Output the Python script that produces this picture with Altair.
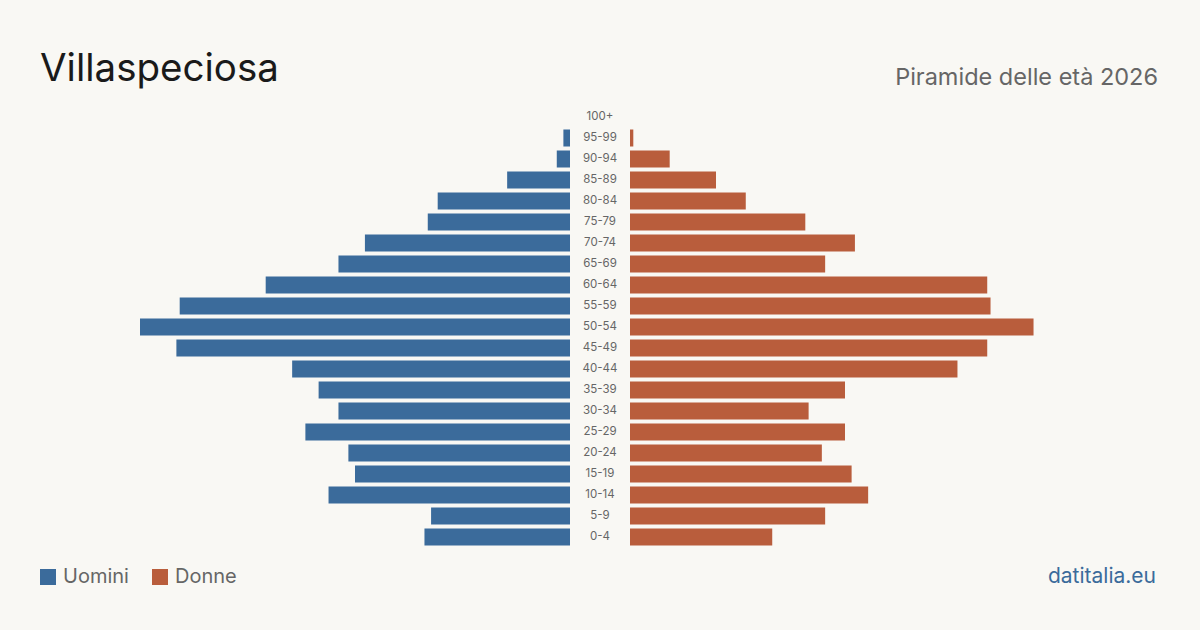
import altair as alt
import pandas as pd

# Age classes, from oldest (top) to youngest (bottom)
ages = ["100+", "95-99", "90-94", "85-89", "80-84", "75-79", "70-74", "65-69",
        "60-64", "55-59", "50-54", "45-49", "40-44", "35-39", "30-34", "25-29",
        "20-24", "15-19", "10-14", "5-9", "0-4"]
uomini = [0, 2, 4, 19, 40, 43, 62, 70, 92, 118, 130, 119, 84, 76, 70, 80, 67, 65, 73, 42, 44]
donne = [0, 1, 12, 26, 35, 53, 68, 59, 108, 109, 122, 108, 99, 65, 54, 65, 58, 67, 72, 59, 43]

title_text = "Villaspeciosa"
subtitle_text = "Piramide delle età 2026"
source_text = "datitalia.eu"

BG = "#f9f8f4"
BLUE = "#3b6b9b"
RUST = "#b95d3c"
FONT = "Inter"

df = pd.DataFrame({"age": ages, "Uomini": uomini, "Donne": donne})
vmax = max(max(uomini), max(donne))

y_enc = alt.Y("age:N", sort=ages, axis=None,
              scale=alt.Scale(range=[106.5, 547.5], paddingInner=0.19, paddingOuter=0.095))

color_scale = alt.Scale(domain=["Uomini", "Donne"], range=[BLUE, RUST])
legend = alt.Legend(orient="none", legendX=38, legendY=567, direction="horizontal",
                    title=None, symbolType="square", symbolSize=256, symbolStrokeWidth=0,
                    symbolOpacity=1, labelFontSize=20, labelColor="#666666", labelFont=FONT,
                    labelOffset=5, columnPadding=21)

base = alt.Chart(df)

men = base.transform_calculate(sesso="'Uomini'").mark_bar().encode(
    x=alt.X("Uomini:Q", axis=None, scale=alt.Scale(domain=[0, vmax], range=[570, 140])),
    y=y_enc,
    color=alt.Color("sesso:N", scale=color_scale, legend=legend),
)

women = base.transform_calculate(sesso="'Donne'").mark_bar().encode(
    x=alt.X("Donne:Q", axis=None, scale=alt.Scale(domain=[0, vmax], range=[630, 1060])),
    y=y_enc,
    color=alt.Color("sesso:N", scale=color_scale, legend=legend),
)

age_labels = base.mark_text(font=FONT, fontSize=11.5, color="#666666", align="center",
                            baseline="middle").encode(
    x=alt.value(600),
    y=y_enc,
    text="age:N",
)


def label(text, x, y, size, color, align="left"):
    return alt.Chart(alt.Data(values=[{"t": text}])).mark_text(
        font=FONT, fontSize=size, color=color, align=align, baseline="alphabetic"
    ).encode(x=alt.value(x), y=alt.value(y), text="t:N")


title = label(title_text, 40, 81, 38.5, "#1a1a1a")
subtitle = label(subtitle_text, 1158, 85, 23.5, "#666666", align="right")
source = label(source_text, 1156, 583, 21, BLUE, align="right")

chart = alt.layer(men, women, age_labels, title, subtitle, source).resolve_scale(
    x="independent"
).properties(
    width=1200, height=630, padding=0,
    autosize=alt.AutoSizeParams(type="none"),
    background=BG,
).configure_view(strokeWidth=0)

chart.save("out.html", embed_options={"renderer": "svg", "actions": False})
